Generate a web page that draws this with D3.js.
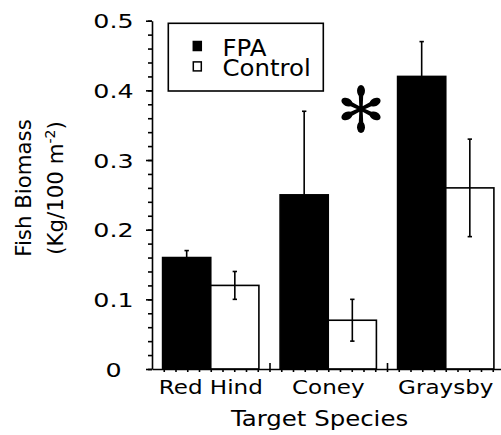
<!DOCTYPE html>
<html>
<head>
<meta charset="utf-8">
<script src="https://cdn.jsdelivr.net/npm/d3@7"></script>
<style>
  html, body { margin: 0; padding: 0; background: #fff; }
  svg { display: block; font-family: "DejaVu Sans", sans-serif; }
</style>
</head>
<body>
<svg id="chart" width="501" height="435"></svg>
<script>
// Fish biomass (Kg/100 m^-2) by target species, FPA vs Control sites
const species = ["Red Hind", "Coney", "Graysby"];
const seriesNames = ["FPA", "Control"];
const fpaMean = [0.16, 0.25, 0.42];
const fpaSE = [0.01, 0.12, 0.05];
const controlMean = [0.12, 0.07, 0.26];
const controlSE = [0.02, 0.03, 0.07];
const yTicks = [0, 0.1, 0.2, 0.3, 0.4, 0.5];
const yTickLabels = ["0", "0.1", "0.2", "0.3", "0.4", "0.5"];

(function drawChart() {
  const svg = d3.select("#chart");
  const plotLeft = 152, plotRight = 504.5, plotTop = 20.7, plotBottom = 369;
  const ink = "#000";

  const y = d3.scaleLinear().domain([0, 0.5]).range([plotBottom, plotTop]);
  const x0 = d3.scaleBand().domain(species).range([plotLeft, plotRight]);
  const x1 = d3.scaleBand().domain(seriesNames).range([10.6, x0.bandwidth() - 10.6]);
  const xu = d3.scaleLinear().domain([0, species.length]).range([plotLeft, plotRight]);

  const rows = species.map((s, i) => ({
    species: s,
    values: [
      { key: "FPA", mean: fpaMean[i], se: fpaSE[i], both: false },
      { key: "Control", mean: controlMean[i], se: controlSE[i], both: true }
    ]
  }));

  // Wide-set text: anchor point, then a horizontal stretch of the glyphs
  function wideText(sel, cx, cy, sx) {
    return sel.attr("x", 0).attr("y", 0)
      .attr("transform", `translate(${cx},${cy}) scale(${sx},1)`);
  }

  // Bars
  const groups = svg.append("g").selectAll("g").data(rows).join("g")
    .attr("transform", d => `translate(${x0(d.species)},0)`);

  groups.selectAll("rect").data(d => d.values).join("rect")
    .attr("x", d => x1(d.key))
    .attr("y", d => y(d.mean))
    .attr("width", x1.bandwidth())
    .attr("height", d => y(0) - y(d.mean))
    .attr("fill", d => d.key === "FPA" ? ink : "#fff")
    .attr("stroke", ink)
    .attr("stroke-width", 1.6);

  // Error bars (FPA: upper only; Control: both directions)
  const capHalf = 2.2;
  const err = groups.selectAll("g.err").data(d => d.values).join("g").attr("class", "err")
    .attr("transform", d => `translate(${x1(d.key) + x1.bandwidth() / 2},0)`);
  err.append("line")
    .attr("y1", d => y(d.both ? d.mean - d.se : d.mean))
    .attr("y2", d => y(d.mean + d.se))
    .attr("stroke", ink).attr("stroke-width", 1.6);
  err.append("line")
    .attr("x1", -capHalf).attr("x2", capHalf)
    .attr("y1", d => y(d.mean + d.se)).attr("y2", d => y(d.mean + d.se))
    .attr("stroke", ink).attr("stroke-width", 1.6);
  err.filter(d => d.both).append("line")
    .attr("x1", -capHalf).attr("x2", capHalf)
    .attr("y1", d => y(d.mean - d.se)).attr("y2", d => y(d.mean - d.se))
    .attr("stroke", ink).attr("stroke-width", 1.6);

  // Y axis: minor ticks every 0.02, major ticks with labels every 0.1
  const yMinor = d3.range(0, 26).map(k => k * 0.02);
  svg.append("g").attr("transform", `translate(${plotLeft},0)`)
    .call(d3.axisLeft(y).tickValues(yMinor).tickSize(4).tickSizeOuter(0).tickFormat(""))
    .call(g => g.selectAll("line, path").attr("stroke", ink).attr("stroke-width", 1.6));
  const yAxis = svg.append("g").attr("transform", `translate(${plotLeft},0)`)
    .call(d3.axisLeft(y).tickValues(yTicks).tickSize(6).tickSizeOuter(0)
      .tickFormat((d, i) => yTickLabels[i]));
  yAxis.select(".domain").remove();
  yAxis.selectAll("line").attr("stroke", ink).attr("stroke-width", 1.6);
  yAxis.selectAll("text")
    .call(t => wideText(t, 113.5 - plotLeft, 0, 1.3))
    .attr("text-anchor", "middle")
    .attr("dy", "0.36em")
    .attr("fill", ink)
    .style("font-family", "DejaVu Sans").style("font-size", "19.5px");

  // X axis: baseline, small downward ticks and upward group separators
  const xMinor = d3.range(1, species.length * 10).map(k => k / 10);
  svg.append("g").attr("transform", `translate(0,${plotBottom})`)
    .call(d3.axisBottom(xu).tickValues(xMinor).tickSize(3).tickSizeOuter(0).tickFormat(""))
    .call(g => g.selectAll("line, path").attr("stroke", ink).attr("stroke-width", 1.6));
  svg.append("g").attr("transform", `translate(0,${plotBottom})`)
    .call(d3.axisBottom(xu).tickValues(d3.range(1, species.length)).tickSize(-6).tickSizeOuter(0).tickFormat(""))
    .call(g => g.select(".domain").remove())
    .call(g => g.selectAll("line").attr("stroke", ink).attr("stroke-width", 1.6));

  // Category labels
  svg.append("g").selectAll("text").data(species).join("text")
    .each(function (d) {
      wideText(d3.select(this), x0(d) + x0.bandwidth() / 2, 394.3, 1.17);
    })
    .attr("text-anchor", "middle")
    .style("font-size", "19.7px")
    .text(d => d);

  // Axis titles
  svg.append("text")
    .call(t => wideText(t, 319.5, 425.7, 1.11))
    .attr("text-anchor", "middle")
    .style("font-size", "22px")
    .text("Target Species");

  const yTitle = svg.append("g").attr("transform", "translate(0,188) rotate(-90)");
  yTitle.append("text")
    .attr("x", 0).attr("y", 31)
    .attr("text-anchor", "middle")
    .style("font-size", "21.3px")
    .text("Fish Biomass");
  const l2 = yTitle.append("text")
    .attr("x", 0).attr("y", 63.3)
    .attr("text-anchor", "middle")
    .style("font-size", "21.3px");
  l2.append("tspan").text("(Kg/100 m");
  l2.append("tspan").attr("dy", -8).style("font-size", "14px").text("-2");
  l2.append("tspan").attr("dy", 8).text(")");

  // Legend: frame, swatches and one two-line label block
  const legendStep = 20.4;
  const legend = svg.append("g");
  legend.append("rect")
    .attr("x", 168.3).attr("y", 23.3).attr("width", 155).attr("height", 67.7)
    .attr("fill", "#fff").attr("stroke", ink).attr("stroke-width", 1.6);
  legend.selectAll("rect.swatch").data(seriesNames).join("rect").attr("class", "swatch")
    .attr("x", 193.3).attr("y", (d, i) => 41.5 + i * legendStep)
    .attr("width", 8).attr("height", 9)
    .attr("fill", d => d === "FPA" ? ink : "#fff")
    .attr("stroke", ink).attr("stroke-width", 1.5);
  legend.append("text")
    .call(t => wideText(t, 222.5, 55.7, 1.04))
    .style("font-size", "23.5px")
    .selectAll("tspan").data(seriesNames).join("tspan")
    .attr("x", 0)
    .attr("dy", (d, i) => i === 0 ? 0 : legendStep)
    .text(d => d);

  // Significance asterisk: six teardrop arms around a centre
  const star = svg.append("g").attr("transform", "translate(361,109)");
  const arms = [
    { angle: -90, len: 24 }, { angle: 90, len: 24 },
    { angle: -26, len: 21.5 }, { angle: 26, len: 21.5 },
    { angle: 154, len: 21.5 }, { angle: 206, len: 21.5 }
  ];
  const armG = star.selectAll("g").data(arms).join("g")
    .attr("transform", d => `rotate(${d.angle})`);
  armG.append("path")
    .attr("d", d => {
      const e = d.len - 6;
      return `M0,-1.6 L${e},-2.4 L${e},2.4 L0,1.6 Z`;
    })
    .attr("fill", ink);
  armG.append("ellipse")
    .attr("cx", d => d.len - 5.8).attr("cy", 0)
    .attr("rx", 5.8).attr("ry", 4)
    .attr("fill", ink);
  star.append("circle").attr("r", 3).attr("fill", ink);
})();
</script>
</body>
</html>
